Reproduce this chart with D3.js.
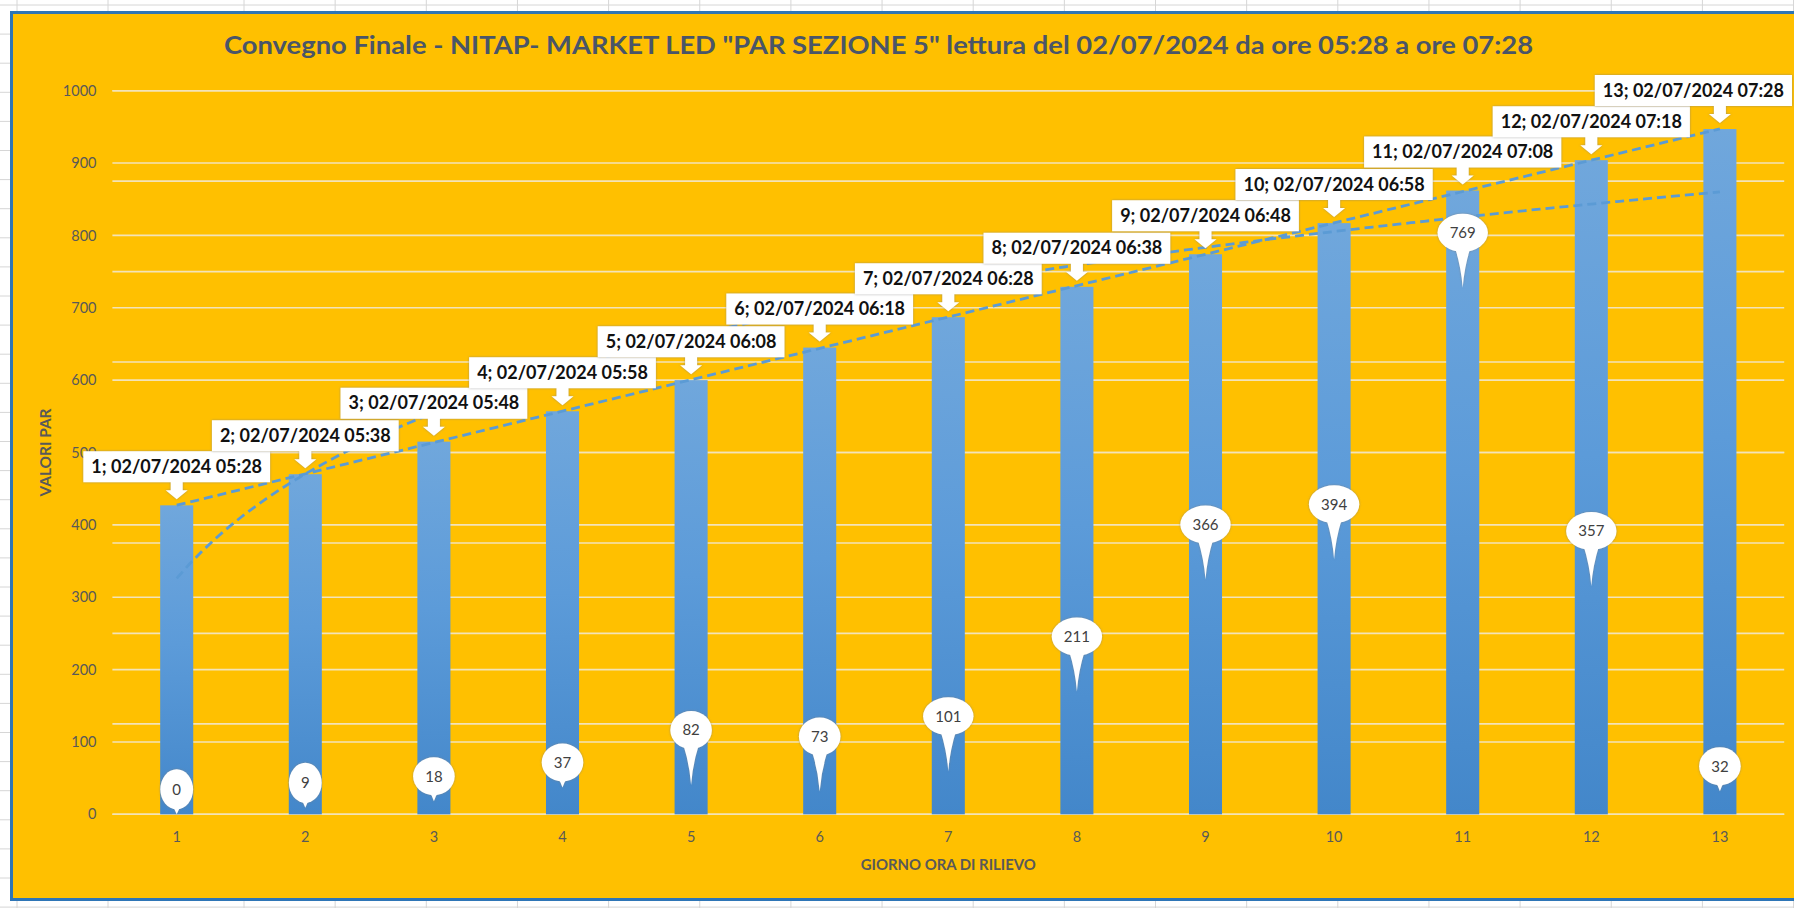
<!DOCTYPE html>
<html>
<head>
<meta charset="utf-8">
<script src="https://cdn.jsdelivr.net/npm/d3@7/dist/d3.min.js"></script>
<style>
  html, body { margin: 0; padding: 0; background: #ffffff; overflow: hidden; }
  svg { display: block; }
</style>
</head>
<body>
<svg id="chart" width="1794" height="908"></svg>
<script>
// Reading index (x categories)
const categories = [1, 2, 3, 4, 5, 6, 7, 8, 9, 10, 11, 12, 13];
// PAR values for each reading (bars)
const parValues = [427, 470, 515, 557, 600, 645, 687, 729, 774, 817, 862, 904, 947];
// Date / time of each reading
const readingTimes = [
  "02/07/2024 05:28", "02/07/2024 05:38", "02/07/2024 05:48", "02/07/2024 05:58",
  "02/07/2024 06:08", "02/07/2024 06:18", "02/07/2024 06:28", "02/07/2024 06:38",
  "02/07/2024 06:48", "02/07/2024 06:58", "02/07/2024 07:08", "02/07/2024 07:18",
  "02/07/2024 07:28"
];
// Second series, shown only through balloon labels
const balloonValues = [0, 9, 18, 37, 82, 73, 101, 211, 366, 394, 769, 357, 32];
// Axis ticks
const yTicks = [0, 100, 200, 300, 400, 500, 600, 700, 800, 900, 1000];
const secondaryTicks = [0, 125, 250, 375, 500, 625, 750, 875, 1000];

const chartTitle = 'Convegno Finale - NITAP- MARKET LED "PAR SEZIONE 5" lettura del 02/07/2024 da ore 05:28 a ore 07:28';
const yTitle = "VALORI PAR";
const xTitle = "GIORNO ORA DI RILIEVO";

const W = 1794, H = 908;
const svg = d3.select("#chart");
const defs = svg.append("defs");

// ---- worksheet behind the chart ----
const sheet = svg.append("g");
sheet.append("rect").attr("width", W).attr("height", H).attr("fill", "#ffffff");
const colLines = [17, 108].concat(d3.range(244, W + 1, 91.15));
sheet.selectAll("line.col").data(colLines).join("line")
  .attr("x1", d => d).attr("x2", d => d).attr("y1", 0).attr("y2", H)
  .attr("stroke", "#d6d6d6").attr("stroke-width", 1);
sheet.selectAll("line.row").data(d3.range(5, H, 29.1)).join("line")
  .attr("x1", 0).attr("x2", W).attr("y1", d => d).attr("y2", d => d)
  .attr("stroke", "#d6d6d6").attr("stroke-width", 1);

// ---- chart area ----
svg.append("rect")
  .attr("x", 11.5).attr("y", 12.5).attr("width", 1830).attr("height", 887)
  .attr("fill", "#FFC000").attr("stroke", "#2E75B6").attr("stroke-width", 3);

const plot = { left: 112.4, right: 1784.2, top: 90.7, bottom: 814.3 };

const x = d3.scaleBand()
  .domain(categories)
  .range([plot.left, plot.right])
  .paddingInner(0.743)
  .paddingOuter(0.3715);
const xc = d => x(d) + x.bandwidth() / 2;
const xLin = d3.scaleLinear()
  .domain([categories[0], categories[categories.length - 1]])
  .range([xc(categories[0]), xc(categories[categories.length - 1])]);
const y = d3.scaleLinear().domain([0, 1000]).range([plot.bottom, plot.top]);

// gridlines (primary and secondary scale)
const grid = svg.append("g");
grid.selectAll("line.g2").data(secondaryTicks).join("line")
  .attr("x1", plot.left).attr("x2", plot.right)
  .attr("y1", d => y(d)).attr("y2", d => y(d))
  .attr("stroke", "#F3E3B8").attr("stroke-width", 1.6);
grid.selectAll("line.g1").data(yTicks).join("line")
  .attr("x1", plot.left).attr("x2", plot.right)
  .attr("y1", d => y(d)).attr("y2", d => y(d))
  .attr("stroke", "#F3E3B8").attr("stroke-width", 1.6);

// y axis labels
const yAxis = d3.axisLeft(y).tickValues(yTicks).tickFormat(d3.format("d")).tickSize(0).tickPadding(0);
const yG = svg.append("g").attr("transform", `translate(${96.5},0)`).call(yAxis);
yG.select(".domain").remove();
yG.selectAll("text")
  .attr("font-family", "Lato, 'Open Sans', sans-serif")
  .attr("font-size", 14.5).attr("fill", "#595959");

// x axis labels
const xAxis = d3.axisBottom(x).tickSize(0).tickPadding(0);
const xG = svg.append("g").attr("transform", `translate(0,${plot.bottom + 17})`).call(xAxis);
xG.select(".domain").remove();
xG.selectAll("text")
  .attr("font-family", "Lato, 'Open Sans', sans-serif")
  .attr("font-size", 14.5).attr("fill", "#595959");

// axis titles
svg.append("text")
  .attr("transform", `translate(51,${(plot.top + plot.bottom) / 2}) rotate(-90)`)
  .attr("text-anchor", "middle")
  .attr("font-family", "Lato, 'Open Sans', sans-serif")
  .attr("font-weight", "bold").attr("font-size", 14.5).attr("fill", "#595959")
  .attr("textLength", 88).attr("lengthAdjust", "spacingAndGlyphs")
  .text(yTitle);
svg.append("text")
  .attr("x", (plot.left + plot.right) / 2).attr("y", 870)
  .attr("text-anchor", "middle")
  .attr("font-family", "Lato, 'Open Sans', sans-serif")
  .attr("font-weight", "bold").attr("font-size", 14.5).attr("fill", "#595959")
  .attr("textLength", 175).attr("lengthAdjust", "spacingAndGlyphs")
  .text(xTitle);

// chart title
svg.append("text")
  .attr("x", 878.5).attr("y", 53.5)
  .attr("text-anchor", "middle")
  .attr("font-family", "Lato, 'Open Sans', sans-serif")
  .attr("font-weight", "bold").attr("font-size", 25).attr("fill", "#4A5568")
  .attr("textLength", 1309).attr("lengthAdjust", "spacingAndGlyphs")
  .text(chartTitle);

// ---- bars ----
const grad = defs.append("linearGradient")
  .attr("id", "barFill").attr("x1", 0).attr("y1", 0).attr("x2", 0).attr("y2", 1);
grad.append("stop").attr("offset", "0%").attr("stop-color", "#70A7DC");
grad.append("stop").attr("offset", "45%").attr("stop-color", "#5C9BD9");
grad.append("stop").attr("offset", "100%").attr("stop-color", "#4387CA");

const barData = categories.map((c, i) => ({ c, v: parValues[i], t: readingTimes[i], b: balloonValues[i] }));

svg.append("g").selectAll("rect").data(barData).join("rect")
  .attr("x", d => x(d.c)).attr("width", x.bandwidth())
  .attr("y", d => y(d.v)).attr("height", d => y(0) - y(d.v))
  .attr("fill", "url(#barFill)");

// ---- trendlines (least squares fits on the bar values) ----
function fit(xs, ys) {
  const n = xs.length;
  const mx = d3.mean(xs), my = d3.mean(ys);
  let sxy = 0, sxx = 0;
  for (let i = 0; i < n; i++) { sxy += (xs[i] - mx) * (ys[i] - my); sxx += (xs[i] - mx) ** 2; }
  const b = sxy / sxx;
  return { a: my - b * mx, b };
}
const linFit = fit(categories, parValues);
const logFit = fit(categories.map(Math.log), parValues);

const trendStyle = sel => sel
  .attr("fill", "none").attr("stroke", "#5B9BD5").attr("stroke-width", 2.8)
  .attr("stroke-dasharray", "9,5");

const xStart = categories[0], xEnd = categories[categories.length - 1];
const line = d3.line().x(d => xLin(d[0])).y(d => y(d[1]));
svg.append("path")
  .attr("d", line([[xStart, linFit.a + linFit.b * xStart], [xEnd, linFit.a + linFit.b * xEnd]]))
  .call(trendStyle);
const logPts = d3.range(0, 121).map(k => {
  const t = xStart + (xEnd - xStart) * k / 120;
  return [t, logFit.a + logFit.b * Math.log(t)];
});
svg.append("path").attr("d", line(logPts)).call(trendStyle);

// ---- shadow for callouts ----
const sh = defs.append("filter").attr("id", "soft")
  .attr("x", "-30%").attr("y", "-30%").attr("width", "160%").attr("height", "160%");
sh.append("feDropShadow").attr("dx", 0).attr("dy", 0).attr("stdDeviation", 1.3)
  .attr("flood-color", "#7f7f7f").attr("flood-opacity", 0.75);

// ---- balloon labels (second series) ----
const balloons = svg.append("g").selectAll("g").data(barData).join("g");
balloons.each(function (d) {
  const g = d3.select(this);
  const shape = g.append("g").attr("filter", "url(#soft)");
  const cx = xc(d.c);
  const py = y(d.b);
  const cy = py - 25;
  const txt = String(d.b);
  const rx = Math.max(15, txt.length * 4.4 + 12);
  const ry = txt.length === 1 ? 20 : 19;
  const longTip = d.b >= 50;
  const tipY = longTip ? py + 30 : py;
  const hw = longTip ? 8 : 6;
  const baseY = cy + ry - 5;
  shape.append("path")
    .attr("d", `M${cx - hw},${baseY} Q${cx - 1.5},${(baseY + tipY) / 2} ${cx},${tipY} Q${cx + 1.5},${(baseY + tipY) / 2} ${cx + hw},${baseY} Z`)
    .attr("fill", "#ffffff");
  shape.append("ellipse").attr("cx", cx).attr("cy", cy).attr("rx", rx).attr("ry", ry)
    .attr("fill", "#ffffff");
  g.append("text").attr("x", cx).attr("y", cy + 5.5)
    .attr("text-anchor", "middle")
    .attr("font-family", "Lato, 'Open Sans', sans-serif")
    .attr("font-size", 15).attr("fill", "#404040")
    .text(txt);
});

// ---- reading labels above the bars ----
const labels = svg.append("g").selectAll("g").data(barData).join("g");
labels.each(function (d) {
  const g = d3.select(this);
  const cx = xc(d.c);
  const top = y(d.v);
  const boxBottom = top - 23, boxH = 31;
  const tip = top - 6, headStart = top - 15;
  const shape = g.append("g").attr("filter", "url(#soft)");
  const t = g.append("text")
    .attr("y", boxBottom - 9.5)
    .attr("text-anchor", "middle")
    .attr("font-family", "Lato, 'Open Sans', sans-serif")
    .attr("font-weight", "bold").attr("font-size", 18).attr("fill", "#111111")
    .text(`${d.c}; ${d.t}`);
  const tw = t.node().getComputedTextLength();
  const bw = tw + 16;
  // keep the label box inside the visible chart area
  const bx = Math.min(cx, W - 2 - bw / 2);
  t.attr("x", bx);
  shape.append("path")
    .attr("d", `M${bx - bw / 2},${boxBottom - boxH} H${bx + bw / 2} V${boxBottom} H${cx + 6} V${headStart} H${cx + 11} L${cx},${tip} L${cx - 11},${headStart} H${cx - 6} V${boxBottom} H${bx - bw / 2} Z`)
    .attr("fill", "#ffffff");
});
</script>
</body>
</html>
